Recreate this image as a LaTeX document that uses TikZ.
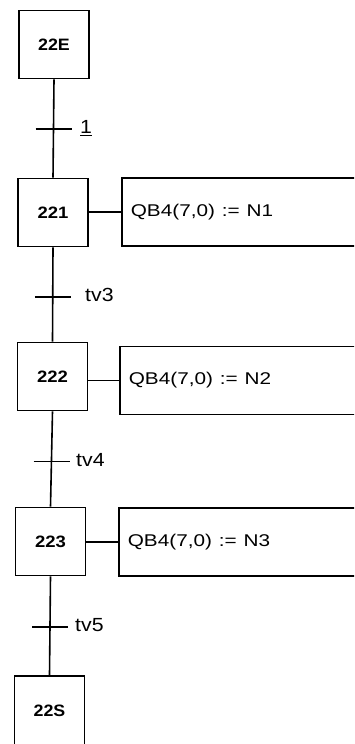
\documentclass[tikz,border=0pt]{standalone}
\usepackage{fontspec}
\usepackage{graphicx}
\setmainfont{Liberation Sans}
\newcommand{\stretchtxt}[2]{\scalebox{#1}[1]{#2}}
\begin{document}
\begin{tikzpicture}[x=1pt,y=-1pt,
  stepbox/.style={draw,line width=1.7pt,minimum width=70pt,minimum height=68pt,inner sep=0pt,font=\fontsize{16.5}{19}\selectfont\bfseries},
  actbox/.style={draw,line width=1.7pt,anchor=west,minimum height=68pt,text width=250pt,inner xsep=9pt,align=left,font=\fontsize{17}{20}\selectfont},
  link/.style={line width=1.6pt},
  bar/.style={line width=1.8pt},
  tlabel/.style={anchor=base west,inner sep=0pt,font=\fontsize{19}{22}\selectfont}]
\useasboundingbox (0,0) rectangle (354,744);
\clip (0,0) rectangle (354,744);
% steps
\node[stepbox] (s22E) at (54,44.5) {\stretchtxt{1.08}{22E}};
\node[stepbox] (s221) at (53,212.5) {\stretchtxt{1.12}{221}};
\node[stepbox] (s222) at (52.5,376.5) {\stretchtxt{1.12}{222}};
\node[stepbox] (s223) at (50.5,541.5) {\stretchtxt{1.12}{223}};
\node[stepbox,minimum height=70pt] (s22S) at (49.5,711) {\stretchtxt{1.08}{22S}};
% actions
\node[actbox] (a221) at (121,212) {\stretchtxt{1.22}{QB4(7,0) := N1}};
\node[actbox] (a222) at (119,380.5) {\stretchtxt{1.22}{QB4(7,0) := N2}};
\node[actbox] (a223) at (118,542) {\stretchtxt{1.22}{QB4(7,0) := N3}};
\draw[link] (a221.west -| s221.east) -- (a221.west);
\draw[link] (a222.west -| s222.east) -- (a222.west);
\draw[link] (a223.west -| s223.east) -- (a223.west);
% links between steps
\draw[link] (s22E.south) -- (s221.north);
\draw[link] (s221.south) -- (s222.north);
\draw[link] (s222.south) -- (s223.north);
\draw[link] (s223.south) -- (s22S.north);
% transitions
\coordinate (t1) at (53.5,129);
\coordinate (t3) at (52.8,297);
\coordinate (t4) at (51.5,461.5);
\coordinate (t5) at (50,627);
\foreach \t in {t1,t3,t4,t5}{
  \draw[bar] ([xshift=-18pt]\t) -- ([xshift=18pt]\t);
}
\node[tlabel] (l1) at (80,133.3) {\stretchtxt{1.12}{\underline{1}}};
\node[tlabel] (l3) at (85,301.7) {\stretchtxt{1.12}{tv3}};
\node[tlabel] (l4) at (76,466.7) {\stretchtxt{1.12}{tv4}};
\node[tlabel] (l5) at (75,631.7) {\stretchtxt{1.12}{tv5}};
\end{tikzpicture}
\end{document}
